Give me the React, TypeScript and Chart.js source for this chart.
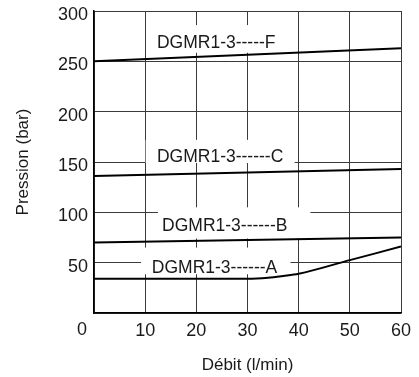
import React, { useEffect, useRef } from "react";
import { Chart, registerables } from "chart.js";

Chart.register(...registerables);

const xTickValues = [0, 10, 20, 30, 40, 50, 60];
const yTickValues = [0, 50, 100, 150, 200, 250, 300];

const fX = [0, 60];
const fY = [250, 263];
const cX = [0, 60];
const cY = [136, 143];
const bX = [0, 60];
const bY = [70, 75];
const aX = [0, 10, 20, 30, 34, 37, 40, 50, 60];
const aY = [34, 34, 34, 34, 35, 36.8, 39, 52.5, 66];

const labelTexts = ["DGMR1-3-----F", "DGMR1-3------C", "DGMR1-3------B", "DGMR1-3------A"];

// annotation placement (data units): text start x, text centre y, box x0,x1,y0,y1
const labelPlacement = [
  { tx: 12.3, ty: 268, x0: 11.3, x1: 38.6, y0: 258.5, y1: 286 },
  { tx: 12.3, ty: 155, x0: 10.1, x1: 39.2, y0: 149, y1: 172 },
  { tx: 13.3, ty: 86.5, x0: 12.5, x1: 42.3, y0: 74, y1: 105 },
  { tx: 11.3, ty: 45, x0: 9.2, x1: 38.4, y0: 38.5, y1: 65 },
];

const FONT = "'Liberation Sans', Arial, Helvetica, sans-serif";

const zip = (xs: number[], ys: number[]) => xs.map((x, i) => ({ x, y: ys[i] }));

const labelPlugin = {
  id: "curveLabels",
  beforeDatasetsDraw(chart: any) {
    const { ctx, scales } = chart;
    const xs = scales.x;
    const ys = scales.y;
    ctx.save();
    labelTexts.forEach((t, i) => {
      const p = labelPlacement[i];
      const l = xs.getPixelForValue(p.x0);
      const r = xs.getPixelForValue(p.x1);
      const top = ys.getPixelForValue(p.y1);
      const bot = ys.getPixelForValue(p.y0);
      ctx.fillStyle = "#ffffff";
      ctx.fillRect(l, top, r - l, bot - top);
      ctx.fillStyle = "#1a1a1a";
      ctx.font = `17.5px ${FONT}`;
      ctx.textAlign = "left";
      ctx.textBaseline = "middle";
      ctx.fillText(t, xs.getPixelForValue(p.tx), ys.getPixelForValue(p.ty));
    });
    ctx.restore();
  },
  afterDraw(chart: any) {
    // origin "0" of x axis sits left of the axis in the reference
    const { ctx, scales } = chart;
    const xs = scales.x;
    ctx.save();
    ctx.fillStyle = "#1a1a1a";
    ctx.font = `18px ${FONT}`;
    ctx.textAlign = "center";
    ctx.textBaseline = "middle";
    ctx.fillText(String(xTickValues[0]), xs.getPixelForValue(xTickValues[0]) - 12, xs.top + 17);
    ctx.restore();
  },
};

export default function App() {
  const ref = useRef<HTMLCanvasElement | null>(null);
  useEffect(() => {
    document.body.style.margin = "0";
    const canvas = ref.current;
    if (!canvas) return;
    Chart.defaults.font.family = FONT;
    const lineStyle = {
      borderColor: "#000",
      borderWidth: 2,
      pointRadius: 0,
      fill: false,
    };
    const chart = new Chart(canvas, {
      type: "line",
      data: {
        datasets: [
          { label: "F", data: zip(fX, fY), ...lineStyle },
          { label: "C", data: zip(cX, cY), ...lineStyle },
          { label: "B", data: zip(bX, bY), ...lineStyle },
          { label: "A", data: zip(aX, aY), ...lineStyle, tension: 0.4, cubicInterpolationMode: "monotone" },
        ],
      },
      options: {
        responsive: false,
        animation: false,
        layout: { padding: { top: 11, right: 18, left: 0, bottom: 0 } },
        plugins: { legend: { display: false }, tooltip: { enabled: false } },
        scales: {
          x: {
            type: "linear",
            min: xTickValues[0],
            max: xTickValues[xTickValues.length - 1],
            afterBuildTicks: (s: any) => {
              s.ticks = xTickValues.map((v) => ({ value: v }));
            },
            afterFit: (s: any) => {
              s.height = 64;
              s.paddingLeft = 0;
              s.paddingRight = 0;
            },
            ticks: {
              color: "#1a1a1a",
              font: { size: 18 },
              padding: 7,
              maxRotation: 0,
              callback: (v: any) => (v === xTickValues[0] ? "" : String(v)),
            },
            grid: { color: "#3a3a3a", lineWidth: 1, drawTicks: false },
            border: { color: "#000", width: 1.5 },
            title: {
              display: true,
              text: "Débit (l/min)",
              color: "#1a1a1a",
              font: { size: 17 },
              padding: { top: 0, bottom: 1 },
            },
          },
          y: {
            type: "linear",
            min: yTickValues[0],
            max: yTickValues[yTickValues.length - 1],
            afterBuildTicks: (s: any) => {
              s.ticks = yTickValues.map((v) => ({ value: v }));
            },
            afterFit: (s: any) => {
              s.width = 94;
              s.paddingTop = 0;
              s.paddingBottom = 0;
            },
            ticks: {
              color: "#1a1a1a",
              font: { size: 18 },
              padding: 6,
              labelOffset: 4,
              callback: (v: any) => (v === 0 ? "" : String(v)),
            },
            grid: { color: "#3a3a3a", lineWidth: 1, drawTicks: false },
            border: { color: "#000", width: 1.5 },
            title: {
              display: true,
              text: "Pression (bar)",
              color: "#1a1a1a",
              font: { size: 17 },
              padding: { top: 13, bottom: 0 },
            },
          },
        },
      },
      plugins: [labelPlugin],
    } as any);
    return () => chart.destroy();
  }, []);
  return (
    <div style={{ width: 419, height: 377 }}>
      <canvas ref={ref} width={419} height={377} style={{ display: "block" }} />
    </div>
  );
}
